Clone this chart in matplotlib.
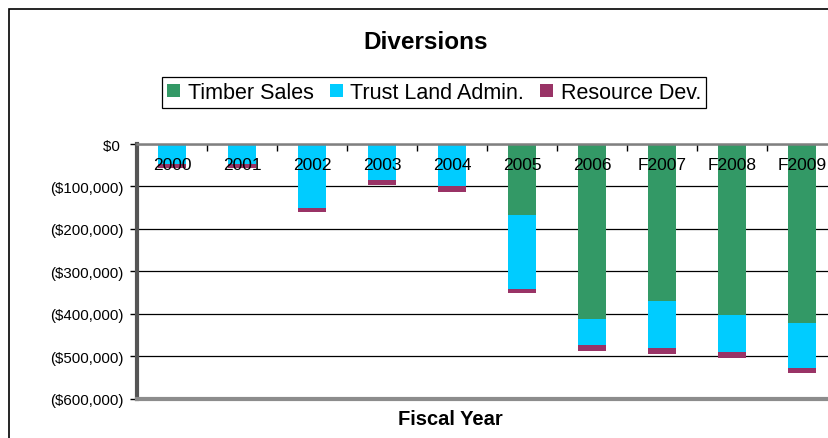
import numpy as np
import matplotlib.pyplot as plt
from matplotlib.patches import Rectangle
from matplotlib.ticker import FuncFormatter, MultipleLocator
import matplotlib.transforms as mtransforms

plt.rcParams['font.family'] = ['Liberation Sans', 'DejaVu Sans']

# data (dollars, negative = diversion)
years = ['2000', '2001', '2002', '2003', '2004', '2005', '2006', 'F2007', 'F2008', 'F2009']
timber_sales = [0, 0, 0, 0, 0, -168000, -413000, -371000, -404000, -423000]
trust_land = [-47000, -47000, -151000, -85000, -100000, -175000, -61000, -109000, -87000, -104000]
resource_dev = [-9000, -9000, -9000, -12000, -13000, -9000, -14000, -14000, -14000, -14000]

green = '#339966'
cyan = '#00CCFF'
purple = '#993366'

fig = plt.figure(figsize=(8.29, 4.39), dpi=100)

# outer chart border (cut off on right / bottom like the reference)
fig.add_artist(Rectangle((9 / 829, -0.2), 1.2, 0.2 + (439 - 10) / 439,
                         transform=fig.transFigure, fill=False,
                         edgecolor='black', linewidth=1.2))

ax = fig.add_axes([137 / 829, (439 - 399.5) / 439, 700 / 829, (399.5 - 145) / 439])

x = np.arange(len(years))
ts = np.array(timber_sales)
tl = np.array(trust_land)
rd = np.array(resource_dev)

w = 0.4
ax.bar(x, ts, w, color=green, label='Timber Sales', zorder=2)
ax.bar(x, tl, w, bottom=ts, color=cyan, label='Trust Land Admin.', zorder=2)
ax.bar(x, rd, w, bottom=ts + tl, color=purple, label='Resource Dev.', zorder=2)

ax.set_xlim(-0.5, len(years) - 0.5)
ax.set_ylim(-600000, 0)

ax.yaxis.set_major_locator(MultipleLocator(100000))
ax.yaxis.set_major_formatter(FuncFormatter(
    lambda v, p: '$0 ' if v == 0 else '(${:,.0f})'.format(abs(v))))
ax.grid(axis='y', color='black', linewidth=0.9)
ax.set_axisbelow(True)

ax.tick_params(axis='y', direction='out', length=5, width=1, color='black',
               labelsize=10.8, pad=4.5)

# category axis lives at the top (y = 0); labels sit just below it
ax.set_xticks(x)
ax.set_xticks(np.arange(-0.5, len(years), 1.0), minor=True)
ax.tick_params(axis='x', which='major', bottom=False, top=False,
               labelbottom=False, labeltop=False)
ax.tick_params(axis='x', which='minor', bottom=False, top=True,
               direction='in', length=5, width=1, color='black')
trans = mtransforms.blended_transform_factory(ax.transData, ax.transAxes)
for i, lab in enumerate(years):
    ax.text(i, 1 - 20 / 254.5, lab, transform=trans, ha='center', va='center',
            fontsize=12.5, zorder=5)

ax.spines['left'].set_color('#555555')
ax.spines['left'].set_linewidth(3)
ax.spines['bottom'].set_color('#8c8c8c')
ax.spines['bottom'].set_linewidth(3)
ax.spines['top'].set_color('#808080')
ax.spines['top'].set_linewidth(1.8)
ax.spines['right'].set_visible(False)

fig.text(426 / 829, 1 - 42.5 / 439, 'Diversions', ha='center', va='center',
         fontsize=17.5, fontweight='bold')
fig.text(450 / 829, 1 - 420 / 439, 'Fiscal Year', ha='center', va='center',
         fontsize=14.5, fontweight='bold')

leg = fig.legend(loc='center', bbox_to_anchor=(434 / 829, 1 - 93.5 / 439), ncol=3,
                 fontsize=15.5, frameon=True, fancybox=False, framealpha=1,
                 edgecolor='black', handlelength=0.6, handleheight=0.6,
                 handletextpad=0.35, columnspacing=0.75, borderpad=0.22,
                 borderaxespad=0)
leg.get_frame().set_linewidth(0.9)

plt.savefig('out.png', dpi=100)
